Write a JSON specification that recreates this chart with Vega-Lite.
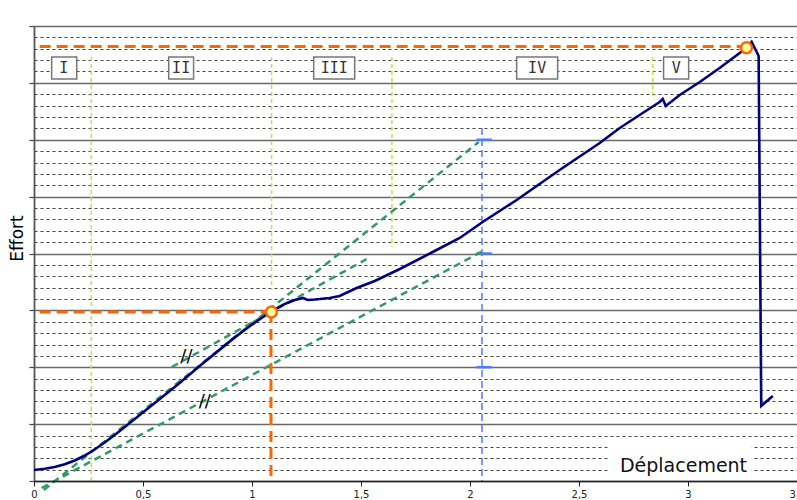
{
  "$schema": "https://vega.github.io/schema/vega-lite/v6.json",
  "width": 763,
  "height": 455,
  "autosize": {"type": "none"},
  "padding": {"left": 34, "top": 26, "right": 0, "bottom": 19},
  "background": "white",
  "config": {"view": {"stroke": null}},
  "datasets": {
    "curve": [
      {"i": 0, "x": 0.0, "y": 0.193},
      {"i": 1, "x": 0.049, "y": 0.215},
      {"i": 2, "x": 0.095, "y": 0.246},
      {"i": 3, "x": 0.141, "y": 0.293},
      {"i": 4, "x": 0.187, "y": 0.360},
      {"i": 5, "x": 0.233, "y": 0.448},
      {"i": 6, "x": 0.278, "y": 0.554},
      {"i": 7, "x": 0.324, "y": 0.677},
      {"i": 8, "x": 0.370, "y": 0.809},
      {"i": 9, "x": 0.425, "y": 0.976},
      {"i": 10, "x": 0.485, "y": 1.160},
      {"i": 11, "x": 0.577, "y": 1.442},
      {"i": 12, "x": 0.668, "y": 1.723},
      {"i": 13, "x": 0.760, "y": 2.022},
      {"i": 14, "x": 0.852, "y": 2.310},
      {"i": 15, "x": 0.921, "y": 2.525},
      {"i": 16, "x": 0.989, "y": 2.722},
      {"i": 17, "x": 1.044, "y": 2.866},
      {"i": 18, "x": 1.090, "y": 2.985},
      {"i": 19, "x": 1.150, "y": 3.112},
      {"i": 20, "x": 1.196, "y": 3.182},
      {"i": 21, "x": 1.233, "y": 3.218},
      {"i": 22, "x": 1.256, "y": 3.182},
      {"i": 23, "x": 1.288, "y": 3.191},
      {"i": 24, "x": 1.356, "y": 3.218},
      {"i": 25, "x": 1.402, "y": 3.253},
      {"i": 26, "x": 1.480, "y": 3.393},
      {"i": 27, "x": 1.563, "y": 3.516},
      {"i": 28, "x": 1.678, "y": 3.727},
      {"i": 29, "x": 1.829, "y": 4.026},
      {"i": 30, "x": 1.953, "y": 4.273},
      {"i": 31, "x": 2.058, "y": 4.554},
      {"i": 32, "x": 2.214, "y": 4.941},
      {"i": 33, "x": 2.411, "y": 5.468},
      {"i": 34, "x": 2.595, "y": 5.943},
      {"i": 35, "x": 2.687, "y": 6.207},
      {"i": 36, "x": 2.778, "y": 6.435},
      {"i": 37, "x": 2.870, "y": 6.664},
      {"i": 38, "x": 2.884, "y": 6.716},
      {"i": 39, "x": 2.898, "y": 6.593},
      {"i": 40, "x": 2.962, "y": 6.787},
      {"i": 41, "x": 3.054, "y": 7.015},
      {"i": 42, "x": 3.145, "y": 7.262},
      {"i": 43, "x": 3.237, "y": 7.525},
      {"i": 44, "x": 3.269, "y": 7.613},
      {"i": 45, "x": 3.292, "y": 7.719},
      {"i": 46, "x": 3.315, "y": 7.543},
      {"i": 47, "x": 3.324, "y": 7.473},
      {"i": 48, "x": 3.329, "y": 4.941},
      {"i": 49, "x": 3.336, "y": 1.319},
      {"i": 50, "x": 3.389, "y": 1.495}
    ],
    "green": [
      {"x": 0.045, "y": -0.158, "x2": 2.040, "y2": 5.96},
      {"x": 0.632, "y": 2.004, "x2": 1.526, "y2": 3.903},
      {"x": 0.035, "y": -0.123, "x2": 2.067, "y2": 4.06}
    ],
    "orange": [
      {"x": 0.026, "y": 7.64, "x2": 3.262, "y2": 7.64},
      {"x": 0.026, "y": 2.971, "x2": 1.085, "y2": 2.971},
      {"x": 1.087, "y": 2.971, "x2": 1.087, "y2": 0.03}
    ],
    "lime": [
      {"x": 0.263, "y": 7.455, "x2": 0.263, "y2": 0},
      {"x": 1.090, "y": 7.455, "x2": 1.090, "y2": 3.358},
      {"x": 1.642, "y": 7.455, "x2": 1.642, "y2": 4.114},
      {"x": 2.838, "y": 7.455, "x2": 2.838, "y2": 6.769}
    ],
    "blueLine": [
      {"x": 2.055, "y": 6.207, "x2": 2.055, "y2": 0}
    ],
    "blueTicks": [
      {"x": 2.03, "y": 6.0, "x2": 2.10, "y2": 6.0},
      {"x": 2.03, "y": 4.0, "x2": 2.10, "y2": 4.0},
      {"x": 2.03, "y": 2.0, "x2": 2.10, "y2": 2.0}
    ],
    "markers": [
      {"x": 1.089, "y": 2.971},
      {"x": 3.268, "y": 7.618}
    ],
    "regions": [
      {"label": "I", "x": 0.081, "x2": 0.196, "y": 7.455, "y2": 7.068, "cx": 0.136, "cy": 7.262},
      {"label": "II", "x": 0.618, "x2": 0.732, "y": 7.455, "y2": 7.068, "cx": 0.675, "cy": 7.262},
      {"label": "III", "x": 1.283, "x2": 1.471, "y": 7.455, "y2": 7.068, "cx": 1.377, "cy": 7.262},
      {"label": "IV", "x": 2.214, "x2": 2.402, "y": 7.455, "y2": 7.068, "cx": 2.308, "cy": 7.262},
      {"label": "V", "x": 2.888, "x2": 3.003, "y": 7.455, "y2": 7.068, "cx": 2.946, "cy": 7.262}
    ],
    "titlebox": [
      {"x": 2.632, "x2": 3.292, "y": 0.72, "y2": 0.088}
    ],
    "parallel": [
      {"x": 0.699, "y": 2.186, "t": "//"},
      {"x": 0.783, "y": 1.394, "t": "//"}
    ]
  },
  "encoding": {
    "x": {
      "field": "x", "type": "quantitative",
      "scale": {"domain": [0, 3.5], "nice": false, "zero": false},
      "axis": {
        "title": "Déplacement",
        "values": [0, 0.5, 1, 1.5, 2, 2.5, 3, 3.5],
        "labelExpr": "replace(toString(datum.value), '.', ',')",
        "labelFont": "DejaVu Sans", "labelFontSize": 10, "labelColor": "#222",
        "labelPadding": 3, "labelFlush": false, "labelOverlap": false,
        "grid": false,
        "domainColor": "#222", "domainWidth": 1.5,
        "tickColor": "#222", "tickSize": 5, "tickWidth": 1,
        "titleFont": "DejaVu Sans", "titleFontSize": 19, "titleFontWeight": "normal", "titleColor": "#111",
        "titleX": 649, "titleY": -10, "titleAlign": "center", "titleBaseline": "alphabetic",
        "zindex": 1
      }
    },
    "y": {
      "field": "y", "type": "quantitative",
      "scale": {"domain": [0, 8], "nice": false, "zero": false},
      "axis": {
        "title": "Effort",
        "values": [0, 0.2, 0.4, 0.6, 0.8, 1, 1.2, 1.4, 1.6, 1.8, 2, 2.2, 2.4, 2.6, 2.8, 3, 3.2, 3.4, 3.6, 3.8, 4, 4.2, 4.4, 4.6, 4.8, 5, 5.2, 5.4, 5.6, 5.8, 6, 6.2, 6.4, 6.6, 6.8, 7, 7.2, 7.4, 7.6, 7.8, 8],
        "labels": false,
        "grid": true,
        "gridColor": {"condition": {"test": "datum.value % 1 === 0", "value": "#6a6a6a"}, "value": "#444"},
        "gridDash": {"condition": {"test": "datum.value % 1 === 0", "value": []}, "value": [3, 3]},
        "gridWidth": {"condition": {"test": "datum.value % 1 === 0", "value": 1.5}, "value": 1},
        "tickOpacity": {"condition": {"test": "datum.value % 1 === 0", "value": 1}, "value": 0},
        "tickSize": 5, "tickColor": "#444", "tickWidth": 1.2,
        "domainColor": "#555", "domainWidth": 1.8,
        "titleFont": "DejaVu Sans", "titleFontSize": 17, "titleFontWeight": "normal", "titleColor": "#000",
        "titleX": -17, "titleY": 212, "titleAngle": 270, "titleAlign": "center", "titleBaseline": "middle"
      }
    }
  },
  "layer": [
    {
      "data": {"name": "titlebox"},
      "mark": {"type": "rect", "fill": "white", "stroke": null},
      "encoding": {"x2": {"field": "x2"}, "y2": {"field": "y2"}}
    },
    {
      "data": {"name": "lime"},
      "mark": {"type": "rule", "stroke": "#c5df4b", "strokeWidth": 1.5, "strokeDash": [4, 3]},
      "encoding": {"x2": {"field": "x2"}, "y2": {"field": "y2"}}
    },
    {
      "data": {"name": "blueLine"},
      "mark": {"type": "rule", "stroke": "#4a7dff", "strokeWidth": 1.5, "strokeDash": [7, 4]},
      "encoding": {"x2": {"field": "x2"}, "y2": {"field": "y2"}}
    },
    {
      "data": {"name": "blueTicks"},
      "mark": {"type": "rule", "stroke": "#4a7dff", "strokeWidth": 2.5},
      "encoding": {"x2": {"field": "x2"}, "y2": {"field": "y2"}}
    },
    {
      "data": {"name": "green"},
      "mark": {"type": "rule", "stroke": "#339966", "strokeWidth": 2.5, "strokeDash": [7, 5]},
      "encoding": {"x2": {"field": "x2"}, "y2": {"field": "y2"}}
    },
    {
      "data": {"name": "orange"},
      "mark": {"type": "rule", "stroke": "#ff6600", "strokeWidth": 3, "strokeDash": [11, 6]},
      "encoding": {"x2": {"field": "x2"}, "y2": {"field": "y2"}}
    },
    {
      "data": {"name": "curve"},
      "mark": {"type": "line", "stroke": "#000080", "strokeWidth": 2.6, "interpolate": "linear"},
      "encoding": {"order": {"field": "i", "type": "quantitative"}}
    },
    {
      "data": {"name": "markers"},
      "mark": {"type": "point", "shape": "circle", "filled": true, "fill": "#ffff99", "stroke": "#ff6600", "strokeWidth": 2.5, "size": 120, "opacity": 1}
    },
    {
      "data": {"name": "regions"},
      "mark": {"type": "rect", "fill": "white", "stroke": "#777", "strokeWidth": 1.5},
      "encoding": {"x2": {"field": "x2"}, "y2": {"field": "y2"}}
    },
    {
      "data": {"name": "regions"},
      "mark": {"type": "text", "font": "DejaVu Sans Mono", "fontSize": 15, "color": "#333", "baseline": "middle", "align": "center"},
      "encoding": {
        "x": {"field": "cx", "type": "quantitative"},
        "y": {"field": "cy", "type": "quantitative"},
        "text": {"field": "label"}
      }
    },
    {
      "data": {"name": "parallel"},
      "mark": {"type": "text", "font": "DejaVu Sans", "fontSize": 18, "color": "#000", "baseline": "middle", "align": "center"},
      "encoding": {"text": {"field": "t"}}
    }
  ]
}
